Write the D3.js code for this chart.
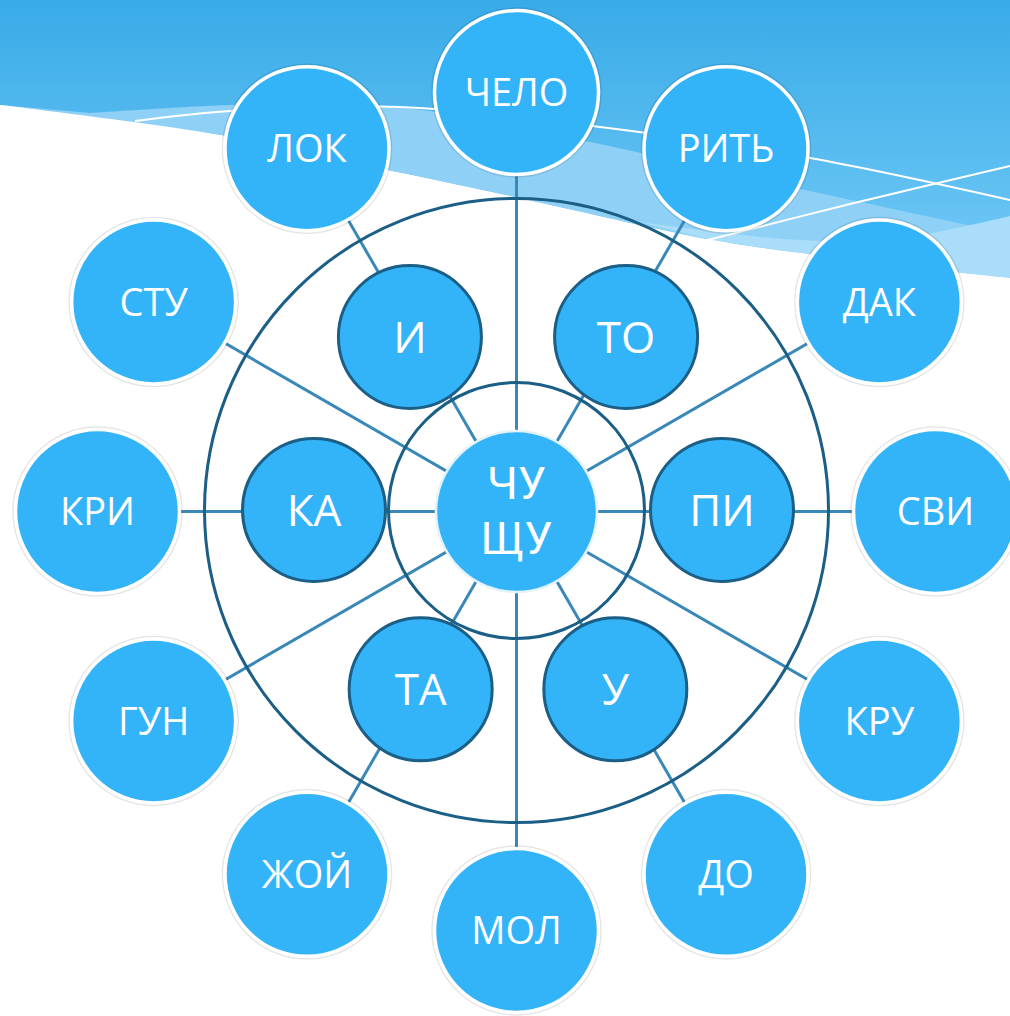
<!DOCTYPE html>
<html lang="ru">
<head>
<meta charset="utf-8">
<title>ЧУ ЩУ - radial</title>
<script src="https://cdn.jsdelivr.net/npm/d3@7/dist/d3.min.js"></script>
<style>
  html, body { margin: 0; padding: 0; background: #fff; }
  svg { display: block; }
  text { font-family: 'Open Sans', 'Noto Sans', sans-serif; fill: #fff; }
  .hub text { font-family: Roboto, 'Open Sans', sans-serif; }
</style>
</head>
<body>
<div id="chart"></div>
<script>

/* Data */
/* ==== */

// syllables on the outer ring, clockwise from the top
var outerLabels = ['ЧЕЛО', 'РИТЬ', 'ДАК', 'СВИ', 'КРУ', 'ДО', 'МОЛ', 'ЖОЙ', 'ГУН', 'КРИ', 'СТУ', 'ЛОК'];

// syllables on the middle ring, clockwise from top-right
var middleLabels = ['ТО', 'ПИ', 'У', 'ТА', 'КА', 'И'];

// the hub, two lines
var centerLabel = ['ЧУ', 'ЩУ'];


/* Set up */
/* ====== */

var width = 1010,
    height = 1016,
    cx = 516.5,
    cy = 511.5;

var fillBlue = '#33b4f8',
    darkBlue = '#1b5e86',
    spokeBlue = '#3a88b8';

var svg = d3.select('#chart').append('svg')
    .attr('width', width)
    .attr('height', height);

var defs = svg.append('defs');

// angle scales (degrees, 0 = up, clockwise)
var outerAngle = d3.scaleLinear().domain([0, outerLabels.length]).range([0, 360]);
// middle nodes sit a little off the spokes in the original, so the spread is uneven
var middleAngle = d3.scaleLinear().domain([0, 1, 2, 3, 4, 5]).range([32, 90, 151.5, 208.5, 270, 328]);

// radius scale for the three levels
var radius = d3.scaleOrdinal()
    .domain(['center', 'middle', 'outer'])
    .range([0, 204, 419]);

function polar(angle, r, ox, oy) {
  var a = angle * Math.PI / 180;
  return [(ox || cx) + r * Math.sin(a), (oy || cy) - r * Math.cos(a)];
}


/* Background waves */
/* ================ */

var grad = defs.append('linearGradient')
    .attr('id', 'sky')
    .attr('gradientUnits', 'userSpaceOnUse')
    .attr('x1', 0).attr('y1', 0).attr('x2', 0).attr('y2', 280);
grad.append('stop').attr('offset', 0).attr('stop-color', '#38abe8');
grad.append('stop').attr('offset', 1).attr('stop-color', '#74caf6');

var curve = d3.line().curve(d3.curveCatmullRom.alpha(0.5));

// lower edge of the blue sky
var edge = [[0, 105], [220, 135], [387, 170], [505, 195], [712, 240], [800, 253], [962, 273], [1010, 278]];
// upper edge of the pale band
var band1 = [[90, 113], [230, 105], [330, 104], [430, 111], [590, 142], [805, 190], [1010, 234]];
// upper edge of the palest band
var band2 = [[640, 222], [800, 240], [900, 238], [1010, 216]];

var bg = svg.append('g').attr('class', 'background');

bg.append('path')
    .attr('d', 'M0,0L' + width + ',0L' + width + ',278' + curve(edge.slice().reverse()).replace('M', 'L') + 'Z')
    .attr('fill', 'url(#sky)');

bg.append('path')
    .attr('d', curve(band1) + curve(edge.filter(function(p) { return p[0] >= 90; }).reverse()).replace('M', 'L') + 'L0,105Z')
    .attr('fill', '#8fd1f6');

bg.append('path')
    .attr('d', curve(band2) + curve(edge.filter(function(p) { return p[0] >= 640; }).reverse()).replace('M', 'L') + 'Z')
    .attr('fill', '#a9ddf9');

// white wave lines
bg.append('path')
    .attr('d', curve([[135, 121], [230, 111], [400, 107], [600, 127], [810, 158], [1010, 200]]))
    .attr('fill', 'none')
    .attr('stroke', '#fff')
    .attr('stroke-width', 2);

bg.append('path')
    .attr('d', curve([[700, 242], [850, 204], [1010, 166]]))
    .attr('fill', 'none')
    .attr('stroke', '#fff')
    .attr('stroke-width', 2);

// bottom white
bg.append('path')
    .attr('d', curve(edge) + 'L' + width + ',' + height + 'L0,' + height + 'Z')
    .attr('fill', '#fff');


/* Spokes */
/* ====== */

svg.append('g').attr('class', 'spokes')
  .selectAll('line')
  .data(outerLabels)
  .join('line')
    .attr('x1', cx)
    .attr('y1', cy)
    .attr('x2', function(d, i) { return polar(outerAngle(i), radius('outer'))[0]; })
    .attr('y2', function(d, i) { return polar(outerAngle(i), radius('outer'))[1]; })
    .attr('stroke', spokeBlue)
    .attr('stroke-width', 3);


/* Rings */
/* ===== */

svg.append('g').attr('class', 'rings')
  .selectAll('circle')
  .data([128, 312])
  .join('circle')
    .attr('cx', cx)
    .attr('cy', cy - 1)
    .attr('r', function(d) { return d; })
    .attr('fill', 'none')
    .attr('stroke', darkBlue)
    .attr('stroke-width', 3);


/* Nodes */
/* ===== */

// outer nodes
var outer = svg.append('g').attr('class', 'outer')
  .selectAll('g')
  .data(outerLabels)
  .join('g')
    .attr('transform', function(d, i) { return 'translate(' + polar(outerAngle(i), radius('outer')) + ')'; });

outer.append('circle')
    .attr('r', 84.5)
    .attr('fill', 'none')
    .attr('stroke', 'rgba(0,0,0,0.10)')
    .attr('stroke-width', 1.5);

outer.append('circle')
    .attr('r', 82)
    .attr('fill', fillBlue)
    .attr('stroke', '#fff')
    .attr('stroke-width', 3.5);

outer.append('text')
    .attr('text-anchor', 'middle')
    .attr('dy', '0.36em')
    .style('font-size', '38px')
    .text(function(d) { return d; });

// middle nodes
var middle = svg.append('g').attr('class', 'middle')
  .selectAll('g')
  .data(middleLabels)
  .join('g')
    .attr('transform', function(d, i) { return 'translate(' + polar(middleAngle(i), radius('middle'), 518, 510) + ')'; });

middle.append('circle')
    .attr('r', 71.5)
    .attr('fill', fillBlue)
    .attr('stroke', darkBlue)
    .attr('stroke-width', 3);

middle.append('text')
    .attr('text-anchor', 'middle')
    .attr('dy', '0.36em')
    .style('font-size', '44px')
    .text(function(d) { return d; });

// hub
var hub = svg.append('g').attr('class', 'hub')
    .attr('transform', 'translate(' + polar(0, radius('center')) + ')');

hub.append('circle')
    .attr('r', 80.5)
    .attr('fill', fillBlue)
    .attr('stroke', '#e4f2fa')
    .attr('stroke-width', 2.5);

hub.selectAll('text')
  .data(centerLabel)
  .join('text')
    .attr('text-anchor', 'middle')
    .attr('y', function(d, i) { return -13 + i * 55; })
    .style('font-size', '45px')
    .text(function(d) { return d; });

</script>
</body>
</html>
